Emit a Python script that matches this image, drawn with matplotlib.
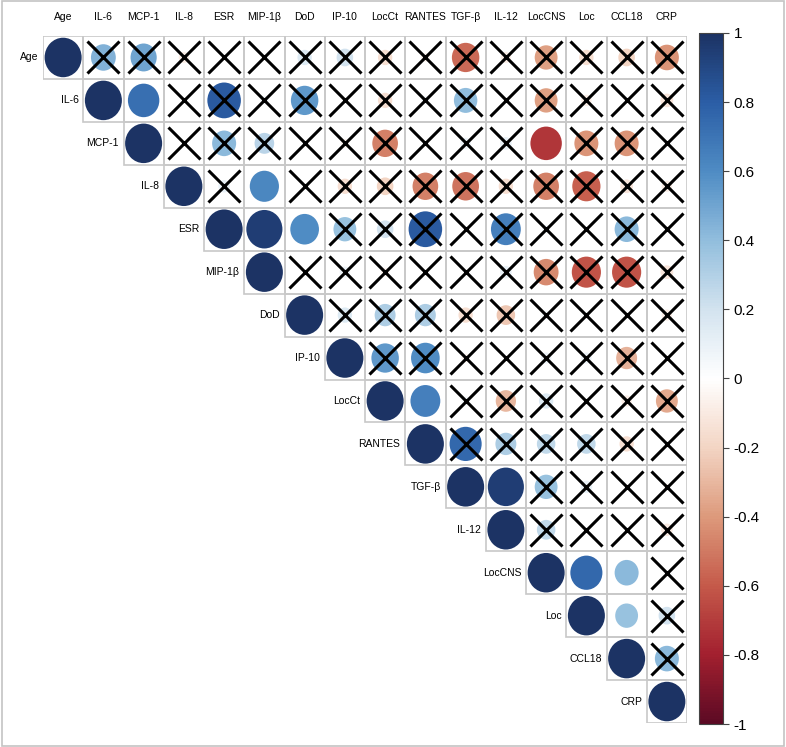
import numpy as np
import matplotlib
matplotlib.use("Agg")
import matplotlib.pyplot as plt
from matplotlib.patches import Circle, Rectangle
from matplotlib.colors import LinearSegmentedColormap, Normalize
from matplotlib.colorbar import ColorbarBase

plt.rcParams['font.family'] = ['Liberation Sans', 'DejaVu Sans']

labels = ["Age", "IL-6", "MCP-1", "IL-8", "ESR", "MIP-1β", "DoD", "IP-10",
          "LocCt", "RANTES", "TGF-β", "IL-12", "LocCNS", "Loc", "CCL18", "CRP"]

# upper triangle, row by row, starting with the diagonal
r_age    = [1, 0.45, 0.5, -0.08, 0.0, 0.0, 0.15, 0.2, -0.15, -0.05, -0.55, -0.08, -0.38, -0.15, -0.2, -0.42]
r_il6    = [1, 0.72, 0.0, 0.82, 0.05, 0.55, 0.0, -0.15, 0.05, 0.4, 0.0, -0.38, -0.08, 0.0, -0.12]
r_mcp1   = [1, 0.0, 0.42, 0.28, 0.02, -0.05, -0.48, 0.0, 0.08, 0.1, -0.72, -0.42, -0.42, 0.0]
r_il8    = [1, 0.1, 0.62, 0.0, -0.15, -0.2, -0.48, -0.52, -0.15, -0.48, -0.58, -0.12, -0.08]
r_esr    = [1, 0.95, 0.6, 0.38, 0.2, 0.82, 0.0, 0.65, 0.05, 0.0, 0.42, 0.0]
r_mip    = [1, 0.0, 0.08, -0.05, 0.0, 0.0, 0.1, -0.45, -0.62, -0.62, -0.12]
r_dod    = [1, 0.15, 0.32, 0.32, -0.15, -0.25, 0.05, 0.03, 0.0, -0.08]
r_ip10   = [1, 0.55, 0.6, -0.05, 0.0, 0.08, 0.08, -0.32, 0.0]
r_locct  = [1, 0.65, 0.05, -0.3, 0.15, 0.0, -0.08, -0.35]
r_rantes = [1, 0.75, 0.32, 0.25, 0.25, -0.15, 0.0]
r_tgfb   = [1, 0.95, 0.38, 0.1, 0.0, -0.03]
r_il12   = [1, 0.25, 0.0, 0.0, -0.1]
r_loccns = [1, 0.75, 0.42, 0.0]
r_loc    = [1, 0.38, 0.2]
r_ccl18  = [1, 0.42]
r_crp    = [1]
rows = [r_age, r_il6, r_mcp1, r_il8, r_esr, r_mip, r_dod, r_ip10, r_locct,
        r_rantes, r_tgfb, r_il12, r_loccns, r_loc, r_ccl18, r_crp]

# pairs shown without a cross (significant)
significant = [("IL-6", "MCP-1"), ("MCP-1", "LocCNS"), ("IL-8", "MIP-1β"),
               ("ESR", "MIP-1β"), ("ESR", "DoD"), ("LocCt", "RANTES"),
               ("TGF-β", "IL-12"), ("LocCNS", "Loc"), ("LocCNS", "CCL18"),
               ("Loc", "CCL18")]

n = len(labels)
cmap = LinearSegmentedColormap.from_list("rdbu", [
    "#5c0a24", "#a3202f", "#c55a4a", "#dd9a7c", "#f3d5c4", "#ffffff",
    "#d3e3ef", "#92bedd", "#4f8cc4", "#2b5ea6", "#1c3364"])
norm = Normalize(-1, 1)

W, H = 786, 747
fig = plt.figure(figsize=(W / 100, H / 100), dpi=100)
fig.patches.append(Rectangle((0.002, 0.002), 0.996, 0.996, transform=fig.transFigure,
                             fill=False, edgecolor="#c4c4c4", lw=1.2))

ax = fig.add_axes([43 / W, 1 - 723 / H, (687 - 43) / W, (723 - 36) / H])
ax.set_xlim(-0.5, n - 0.5)
ax.set_ylim(n - 0.5, -0.5)
ax.axis("off")

sig = set(significant)
for i, row in enumerate(rows):
    for k, r in enumerate(row):
        j = i + k
        ax.add_patch(Rectangle((j - 0.5, i - 0.5), 1, 1, fill=False,
                               edgecolor="#c8c8c8", lw=1.2, zorder=1))
        if r != 0:
            ax.add_patch(Circle((j, i), 0.46 * np.sqrt(abs(r)),
                                facecolor=cmap(norm(r)), edgecolor="none", zorder=2))
        if k > 0 and (labels[i], labels[j]) not in sig:
            ax.plot(j, i, marker="x", markersize=23, mew=2.2, color="black",
                    zorder=3)
    ax.text(i - 0.62, i, labels[i], ha="right", va="center", fontsize=7.5)
    ax.text(i, -0.95, labels[i], ha="center", va="center", fontsize=7.5)

cax = fig.add_axes([699 / W, 1 - 724 / H, 24 / W, (724 - 33) / H])
cb = ColorbarBase(cax, cmap=cmap, norm=norm, orientation="vertical")
ticks = np.round(np.arange(-1, 1.01, 0.2), 1)
cb.set_ticks(ticks)
cb.set_ticklabels(["%g" % (t + 0.0) if abs(t) > 1e-9 else "0" for t in ticks])
cb.outline.set_edgecolor("#444444")
cax.tick_params(labelsize=11, length=4, color="#444444")

fig.savefig("out.png", dpi=100)
